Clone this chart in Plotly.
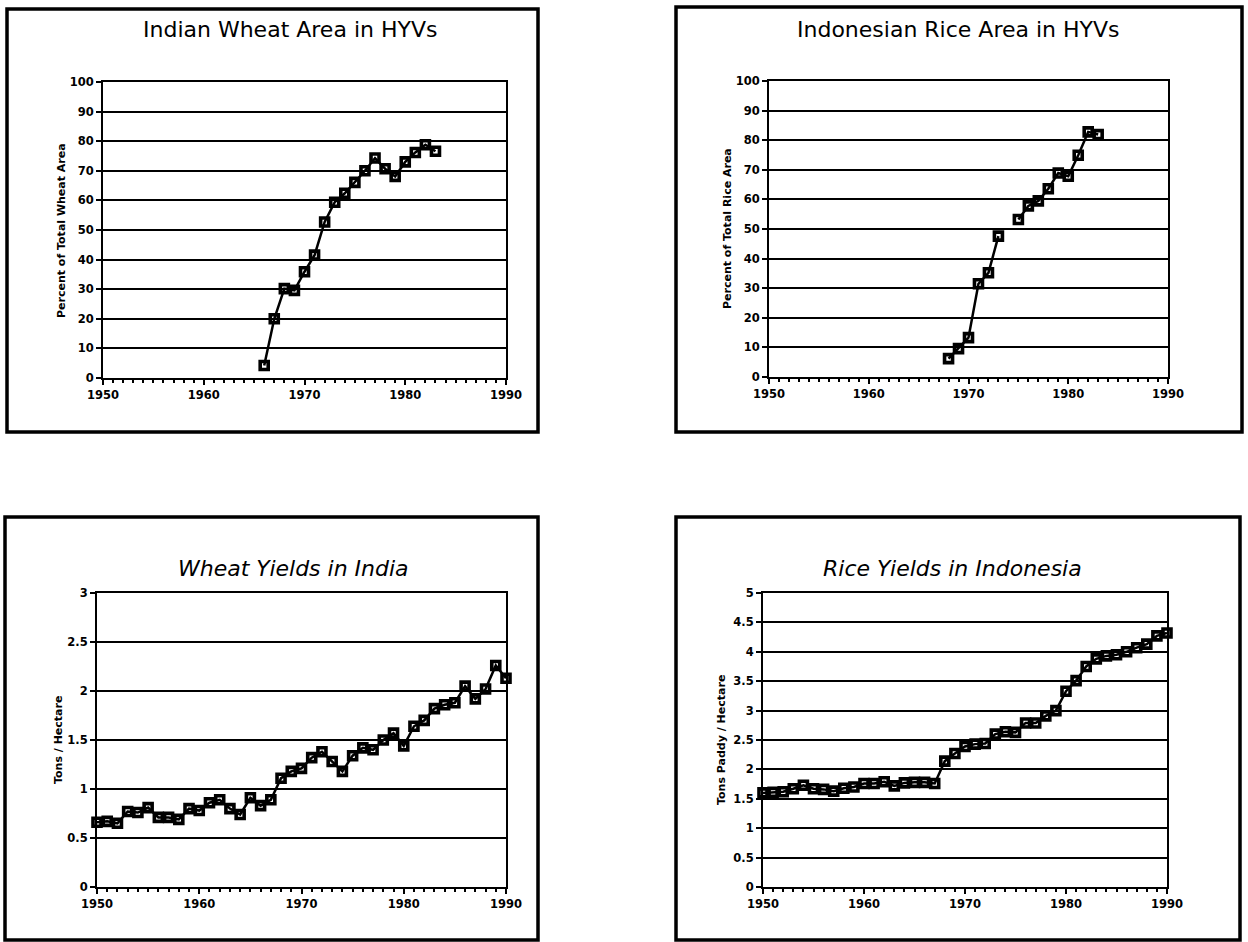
import plotly.graph_objects as go

# ---- data -------------------------------------------------------------
wheat_area_years = list(range(1966, 1984))
wheat_area_pct = [4.2, 20.0, 30.2, 29.6, 35.9, 41.5, 52.7, 59.4, 62.4, 66.1,
                  70.0, 74.3, 70.7, 68.1, 73.0, 76.2, 78.8, 76.6]

rice_area_years = list(range(1968, 1984))
rice_area_pct = [6.2, 9.6, 13.3, 31.5, 35.2, 47.6, None, 53.2, 57.8, 59.5,
                 63.6, 68.9, 67.8, 74.9, 82.8, 81.9]

yield_years = list(range(1950, 1991))
wheat_yield = [0.66, 0.67, 0.65, 0.77, 0.76, 0.81, 0.71, 0.71, 0.69, 0.80,
               0.78, 0.86, 0.89, 0.80, 0.74, 0.91, 0.83, 0.89, 1.11, 1.18,
               1.21, 1.32, 1.38, 1.28, 1.18, 1.34, 1.42, 1.40, 1.50, 1.57,
               1.44, 1.64, 1.70, 1.82, 1.86, 1.88, 2.05, 1.92, 2.02, 2.26,
               2.13]
rice_yield = [1.60, 1.61, 1.62, 1.67, 1.73, 1.67, 1.66, 1.63, 1.68, 1.70,
              1.76, 1.76, 1.79, 1.72, 1.77, 1.78, 1.78, 1.76, 2.14, 2.27,
              2.39, 2.43, 2.44, 2.60, 2.64, 2.63, 2.79, 2.79, 2.91, 3.00,
              3.33, 3.51, 3.75, 3.88, 3.93, 3.95, 4.00, 4.07, 4.13, 4.27,
              4.32]

titles = ["Indian Wheat Area in HYVs", "Indonesian Rice Area in HYVs",
          "<i>Wheat Yields in India</i>", "<i>Rice Yields in Indonesia</i>"]
y_titles = ["Percent of Total Wheat Area", "Percent of Total Rice Area",
            "Tons / Hectare", "Tons Paddy / Hectare"]

# ---- page geometry (pixels) -------------------------------------------
W, H = 1248, 942
def px(x):
    return x / W
def py(y):
    return 1 - y / H

# plot rectangles: (left, top, right, bottom)
plot_boxes = [(103, 82, 506, 378), (769, 81, 1168, 377),
              (97, 593, 506, 887), (763, 593, 1167, 887)]
# panel frames
frames = [(7, 9, 538, 432), (676, 7, 1242, 432),
          (5, 517, 538, 940), (676, 517, 1240, 940)]
title_pos = [(290, 30), (958, 30), (293, 568), (953, 568)]
ytitle_x = [62, 727, 58, 721]

series = [(wheat_area_years, wheat_area_pct), (rice_area_years, rice_area_pct),
          (yield_years, wheat_yield), (yield_years, rice_yield)]
y_ranges = [(0, 100, 10), (0, 100, 10), (0, 3, 0.5), (0, 5, 0.5)]

fig = go.Figure()
tick_font = dict(family="DejaVu Sans", size=11.5, color="black", weight="bold")

for i, ((xs, ys), box) in enumerate(zip(series, plot_boxes)):
    n = "" if i == 0 else str(i + 1)
    fig.add_trace(go.Scatter(
        x=xs, y=ys, mode="lines+markers", xaxis="x" + n, yaxis="y" + n,
        line=dict(color="black", width=2.5),
        marker=dict(symbol="square-open", size=8, color="black",
                    line=dict(color="black", width=3.6)),
        showlegend=False, connectgaps=False, cliponaxis=False))
    l, t, r, b = box
    y0, y1, dy = y_ranges[i]
    fig.layout["xaxis" + n] = dict(
        domain=[px(l), px(r)], anchor="y" + n, range=[1950, 1990],
        tickmode="linear", tick0=1950, dtick=10, ticks="outside",
        ticklen=5, tickwidth=2, tickcolor="black",
        minor=dict(dtick=1, ticks="outside", ticklen=3, tickwidth=2,
                   tickcolor="black"),
        showline=True, linecolor="black", linewidth=2, mirror=True,
        showgrid=False, zeroline=False, tickfont=tick_font, automargin=False)
    fig.layout["yaxis" + n] = dict(
        domain=[py(b), py(t)], anchor="x" + n, range=[y0, y1],
        tickmode="linear", tick0=0, dtick=dy, ticks="outside",
        ticklen=5, tickwidth=2, tickcolor="black",
        showline=True, linecolor="black", linewidth=2, mirror=True,
        showgrid=True, gridcolor="black", gridwidth=2.2, zeroline=False,
        tickfont=tick_font, automargin=False)
    tx, ty = title_pos[i]
    fig.add_annotation(x=px(tx), y=py(ty), xref="paper", yref="paper",
                       xanchor="center", yanchor="middle",
                       text=titles[i], showarrow=False,
                       font=dict(family="DejaVu Sans", size=22, color="black"))
    fig.add_annotation(x=px(ytitle_x[i]), y=py((t + b) / 2), xref="paper",
                       yref="paper", xanchor="center", yanchor="middle",
                       text=y_titles[i], textangle=-90, showarrow=False,
                       font=dict(family="DejaVu Sans", size=11, color="black",
                                 weight="bold"))
    fl, ft, fr, fb = frames[i]
    fig.add_shape(type="rect", xref="paper", yref="paper",
                  x0=px(fl), x1=px(fr), y0=py(fb), y1=py(ft),
                  line=dict(color="black", width=3.5))

fig.update_layout(width=W, height=H, margin=dict(l=0, r=0, t=0, b=0,
                                                 autoexpand=False),
                  paper_bgcolor="white", plot_bgcolor="white")

fig.write_html("out.html")
